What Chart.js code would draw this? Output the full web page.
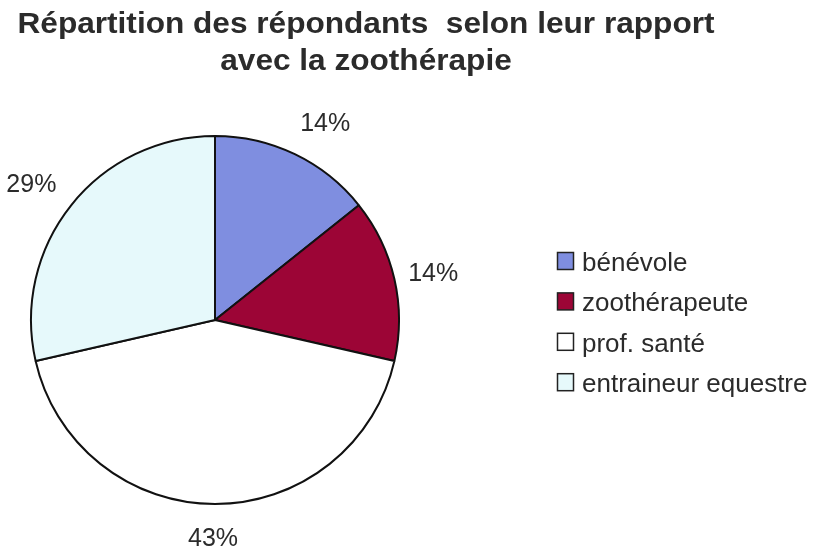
<!DOCTYPE html>
<html>
<head>
<meta charset="utf-8">
<script src="https://cdn.jsdelivr.net/npm/chart.js@4.4.0/dist/chart.umd.min.js"></script>
<style>
html,body{margin:0;padding:0;background:#fff;}
#wrap{position:relative;width:818px;height:550px;}
</style>
</head>
<body>
<div id="wrap"><canvas id="c" width="818" height="550"></canvas></div>
<script>
const titleLines = ["Répartition des répondants  selon leur rapport", "avec la zoothérapie"];
const categories = ["bénévole", "zoothérapeute", "prof. santé", "entraineur equestre"];
const values = [1, 1, 3, 2];
const percentLabels = ["14%", "14%", "43%", "29%"];
const colors = ["#7f8ee0", "#9c0536", "#ffffff", "#e6f9fb"];

const FONT = "'Liberation Sans', Arial, Helvetica, sans-serif";
const TEXT = "#2b2b2b";
// small style nudges for the percentage labels (pixels)
const labelNudge = [[10, -2], [-7, 1], [-2, 2], [-3, -1]];

function stretchedText(ctx, txt, cx, y, targetW) {
  const w = ctx.measureText(txt).width;
  const s = targetW / w;
  ctx.save();
  ctx.translate(cx, y);
  ctx.scale(s, 1);
  ctx.fillText(txt, 0, 0);
  ctx.restore();
  return s;
}

const overlay = {
  id: 'overlay',
  afterDraw(chart) {
    const ctx = chart.ctx;
    ctx.save();
    // title
    ctx.fillStyle = TEXT;
    ctx.font = "bold 29px " + FONT;
    ctx.textAlign = 'center';
    ctx.textBaseline = 'alphabetic';
    const s = stretchedText(ctx, titleLines[0], 366, 33, 697);
    stretchedText(ctx, titleLines[1], 366, 70, ctx.measureText(titleLines[1]).width * s);
    // percent labels
    const meta = chart.getDatasetMeta(0);
    ctx.font = "25px " + FONT;
    ctx.textBaseline = 'middle';
    const hh = 10;
    meta.data.forEach((arc, i) => {
      const p = arc.getProps(['x','y','startAngle','endAngle','outerRadius'], true);
      const mid = (p.startAngle + p.endAngle) / 2;
      const dx = Math.cos(mid), dy = Math.sin(mid);
      const hw = ctx.measureText(percentLabels[i]).width / 2;
      const k = p.outerRadius + 22;
      const x = p.x + dx * k + dx * hw + labelNudge[i][0];
      const y = p.y + dy * k + dy * hh + labelNudge[i][1];
      ctx.fillText(percentLabels[i], x, y + 1);
    });
    // legend
    ctx.textAlign = 'left';
    ctx.textBaseline = 'alphabetic';
    ctx.font = "26px " + FONT;
    categories.forEach((name, i) => {
      const base = 271 + i * 40.4;
      ctx.fillStyle = colors[i];
      ctx.fillRect(557.5, base - 18.5, 16, 17);
      ctx.strokeStyle = '#222';
      ctx.lineWidth = 1.5;
      ctx.strokeRect(557.5, base - 18.5, 16, 17);
      ctx.fillStyle = TEXT;
      ctx.fillText(name, 582, base);
    });
    ctx.restore();
  }
};

new Chart(document.getElementById('c'), {
  type: 'pie',
  data: {
    labels: categories,
    datasets: [{
      data: values,
      backgroundColor: colors,
      borderColor: '#111',
      borderWidth: 2
    }]
  },
  options: {
    responsive: false,
    animation: false,
    layout: { padding: { left: 30, right: 418, top: 135, bottom: 45 } },
    plugins: {
      legend: { display: false },
      tooltip: { enabled: false },
      title: { display: false }
    }
  },
  plugins: [overlay]
});
</script>
</body>
</html>
